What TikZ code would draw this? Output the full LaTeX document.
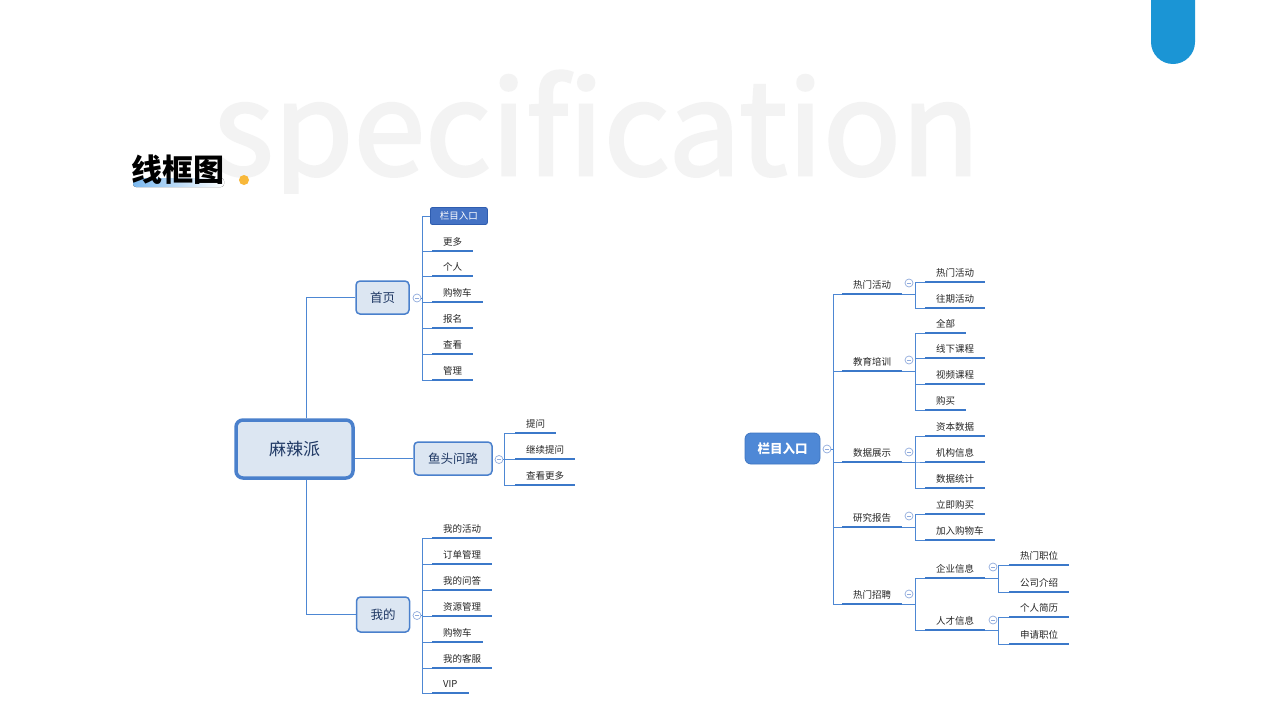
\documentclass[tikz,border=0pt]{standalone}
\usepackage{fontspec}
\newfontfamily\cjk{Noto Sans CJK SC}
\newfontfamily\wmfont[FakeBold=2]{Noto Sans CJK SC}
\usetikzlibrary{calc}
\definecolor{conn}{HTML}{4D87D3}
\definecolor{ul}{HTML}{3B78C9}
\definecolor{boxfill}{HTML}{DCE6F2}
\definecolor{boxdraw}{HTML}{4A80CC}
\definecolor{navy}{HTML}{1F3864}
\definecolor{leaftxt}{HTML}{262626}
\definecolor{hifill}{HTML}{4472C4}
\definecolor{hidraw}{HTML}{2F5DAF}
\definecolor{rfill}{HTML}{4E88D6}
\definecolor{rdraw}{HTML}{3F76C2}
\definecolor{cc}{HTML}{8FAADC}
\definecolor{wm}{HTML}{F3F3F3}
\definecolor{tab}{HTML}{1B95D5}
\definecolor{dot}{HTML}{F8B83A}
\definecolor{hl}{HTML}{7BB8EE}
\begin{document}
\begin{tikzpicture}[x=1pt,y=-1pt,
  conn/.style={draw=conn,line width=1pt},
  ulstyle/.style={draw=ul,line width=2.6pt},
  leaf/.style={font=\cjk\fontsize{9.5}{11}\selectfont,text=leaftxt,inner xsep=11pt,inner ysep=3pt,
    text height=7pt,text depth=2pt,anchor=south west,
    append after command={(\tikzlastnode.south west) edge[ulstyle] (\tikzlastnode.south east)}},
  box/.style={draw=boxdraw,fill=boxfill,line width=1.5pt,rounded corners=4pt,
    font=\cjk\fontsize{12.5}{14}\selectfont,text=navy,minimum width=53pt,minimum height=33pt,inner sep=0pt},
  rootbox/.style={draw=boxdraw,fill=boxfill,line width=3.5pt,rounded corners=7pt,
    font=\cjk\fontsize{17}{20}\selectfont,text=navy,minimum width=117pt,minimum height=58pt,inner sep=0pt},
  hibox/.style={draw=hidraw,fill=hifill,line width=0.8pt,rounded corners=2pt,anchor=west,
    font=\cjk\fontsize{9.5}{11}\selectfont,text=white,minimum width=57pt,minimum height=17pt,inner sep=0pt},
  rbox/.style={draw=rdraw,fill=rfill,line width=0.8pt,rounded corners=6pt,
    font=\cjk\bfseries\fontsize{12.5}{14}\selectfont,text=white,minimum width=75pt,minimum height=31pt,inner sep=0pt},
  coll/.style={circle,draw=cc,fill=white,line width=0.7pt,minimum size=8pt,inner sep=0pt,
    path picture={\draw[cc,line width=0.7pt] ([xshift=-2pt]path picture bounding box.center) -- ([xshift=2pt]path picture bounding box.center);}}
]
\useasboundingbox (0,0) rectangle (1280,720);
\fill[white] (0,0) rectangle (1280,720);

% watermark
\begin{scope}
\clip (0,0) rectangle (1280,193);
\node[anchor=base west,inner sep=0pt,text=wm,font=\wmfont\fontsize{129}{129}\selectfont] (wmk) at (213,175) {specification};
\end{scope}

% top right tab
\fill[tab,rounded corners=22pt] (1151,-40) rectangle (1195,64);

% title
\fill[left color=hl,right color=white,rounded corners=3pt] (133,178) rectangle (224,187);
\node[font=\cjk\bfseries\fontsize{31}{34}\selectfont,text=black,inner sep=0pt] (title) at (178,170) {线框图};
\fill[dot] (244,180) circle (5);

% ---------- left map ----------
\node[rootbox] (root) at (294.5,449) {麻辣派};
\node[box] (home) at (382.5,297.5) {首页};
\node[box,minimum width=78pt] (yutou) at (453,458.5) {鱼头问路};
\node[box,minimum height=35pt] (mine) at (383,614.5) {我的};
\node[coll] (ch) at (417,298) {};
\node[coll] (cy) at (499,459.5) {};
\node[coll] (cm) at (417,615.5) {};

\draw[conn] ([xshift=11.5pt]root.north) |- (home.west);
\draw[conn] ([xshift=11.5pt]root.south) |- (mine.west);
\draw[conn] (root.east |- yutou.west) -- (yutou.west);

\node[hibox] (h1) at (430,216) {栏目入口};
\node[leaf] (h2) at (432,251) {更多};
\node[leaf] (h3) at (432,276) {个人};
\node[leaf] (h4) at (432,302) {购物车};
\node[leaf] (h5) at (432,328) {报名};
\node[leaf] (h6) at (432,354) {查看};
\node[leaf] (h7) at (432,380) {管理};
\draw[conn] (ch.east) -- ++(1.5,0) |- (h1.west);
\foreach \n in {h2,h3,h4,h5,h6,h7} \draw[conn] (ch.east) -- ++(1.5,0) |- (\n.south west);

\node[leaf] (y1) at (515,433) {提问};
\node[leaf] (y2) at (515,459) {继续提问};
\node[leaf] (y3) at (515,485) {查看更多};
\foreach \n in {y1,y2,y3} \draw[conn] (cy.east) -- ++(1.5,0) |- (\n.south west);

\node[leaf] (m1) at (432,538) {我的活动};
\node[leaf] (m2) at (432,564) {订单管理};
\node[leaf] (m3) at (432,590) {我的问答};
\node[leaf] (m4) at (432,616) {资源管理};
\node[leaf] (m5) at (432,642) {购物车};
\node[leaf] (m6) at (432,668) {我的客服};
\node[leaf] (m7) at (432,693) {VIP};
\foreach \n in {m1,m2,m3,m4,m5,m6,m7} \draw[conn] (cm.east) -- ++(1.5,0) |- (\n.south west);

% ---------- right map ----------
\node[rbox] (rr) at (782.5,448.5) {栏目入口};
\node[coll] (cr) at (827,449) {};

\node[leaf] (a1) at (842,294) {热门活动};
\node[leaf] (a2) at (842,371) {教育培训};
\node[leaf] (a3) at (842,462) {数据展示};
\node[leaf] (a4) at (842,527) {研究报告};
\node[leaf] (a5) at (842,604) {热门招聘};
\foreach \n in {a1,a2,a3,a4,a5} \draw[conn] (cr.east) -- ++(2,0) |- (\n.south west);
\node[coll] (ca1) at (909,283) {};
\node[coll] (ca2) at (909,360) {};
\node[coll] (ca3) at (909,452) {};
\node[coll] (ca4) at (909,516) {};
\node[coll] (ca5) at (909,594) {};

\node[leaf] (b11) at (925,282) {热门活动};
\node[leaf] (b12) at (925,308) {往期活动};
\foreach \n in {b11,b12} \draw[conn] (a1.south east) -- ++(13,0) |- (\n.south west);

\node[leaf] (b21) at (925,333) {全部};
\node[leaf] (b22) at (925,358) {线下课程};
\node[leaf] (b23) at (925,384) {视频课程};
\node[leaf] (b24) at (925,410) {购买};
\foreach \n in {b21,b22,b23,b24} \draw[conn] (a2.south east) -- ++(13,0) |- (\n.south west);

\node[leaf] (b31) at (925,436) {资本数据};
\node[leaf] (b32) at (925,462) {机构信息};
\node[leaf] (b33) at (925,488) {数据统计};
\foreach \n in {b31,b32,b33} \draw[conn] (a3.south east) -- ++(13,0) |- (\n.south west);

\node[leaf] (b41) at (925,514) {立即购买};
\node[leaf] (b42) at (925,540) {加入购物车};
\foreach \n in {b41,b42} \draw[conn] (a4.south east) -- ++(13,0) |- (\n.south west);

\node[leaf] (b51) at (925,578) {企业信息};
\node[leaf] (b52) at (925,630) {人才信息};
\foreach \n in {b51,b52} \draw[conn] (a5.south east) -- ++(13,0) |- (\n.south west);
\node[coll] (cb51) at (993,567) {};
\node[coll] (cb52) at (993,620) {};

\node[leaf] (c11) at (1009,565) {热门职位};
\node[leaf] (c12) at (1009,592) {公司介绍};
\foreach \n in {c11,c12} \draw[conn] (b51.south east) -- ++(13,0) |- (\n.south west);
\node[leaf] (c21) at (1009,617) {个人简历};
\node[leaf] (c22) at (1009,644) {申请职位};
\foreach \n in {c21,c22} \draw[conn] (b52.south east) -- ++(13,0) |- (\n.south west);
\end{tikzpicture}
\end{document}
